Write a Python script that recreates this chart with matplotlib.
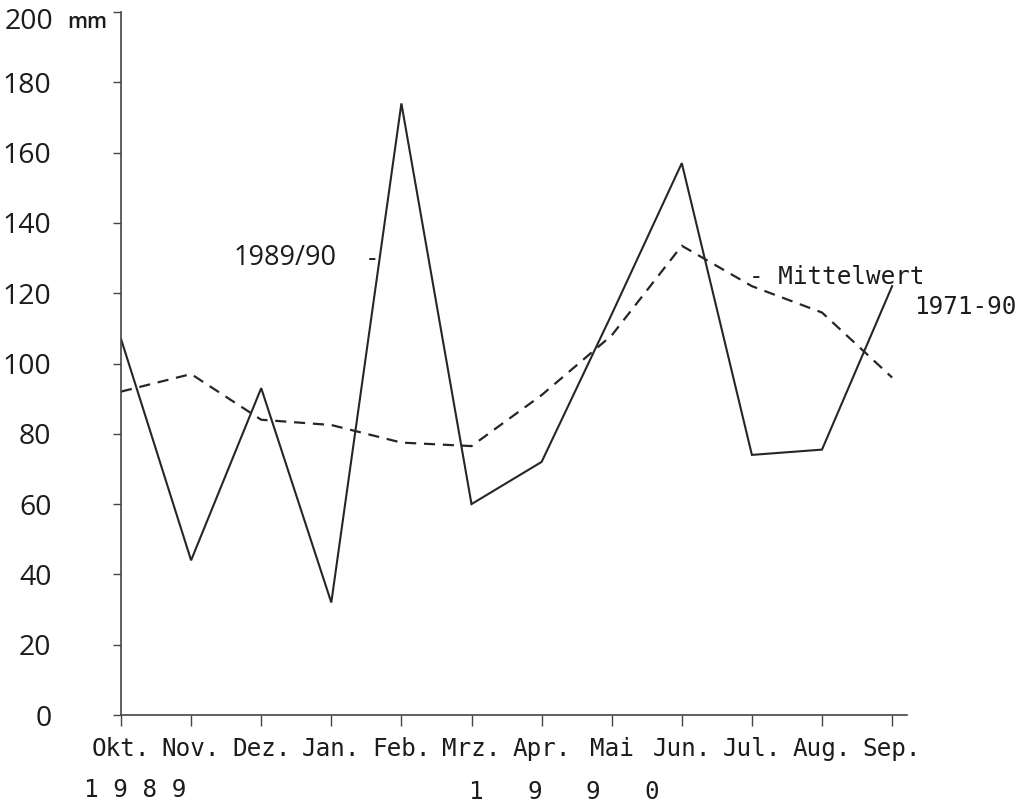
import matplotlib

matplotlib.use("Agg")
import matplotlib.pyplot as plt

W, H = 1019, 809

months = ["Okt.", "Nov.", "Dez.", "Jan.", "Feb.", "Mrz.", "Apr.", "Mai", "Jun.", "Jul.", "Aug.", "Sep."]
# monthly precipitation in mm
rain_1989_90 = [107, 44, 93, 32, 174, 60, 72, 114, 157, 74, 75.5, 122]
mean_1971_90 = [92, 97, 84, 82.5, 77.5, 76.5, 91, 108, 133.5, 122, 114.5, 96]
yticks = [0, 20, 40, 60, 80, 100, 120, 140, 160, 180, 200]

MONO = "DejaVu Sans Mono"
SANS = "Open Sans"
INK = "#1c1c1c"


def px(x, y):
    # pixel coords (top-left origin) -> figure fraction
    return x / W, 1 - y / H


fig = plt.figure(figsize=(W / 100, H / 100), dpi=100)
ax = fig.add_axes([121 / W, 1 - 715 / H, (907 - 121) / W, (715 - 12) / H])

ax.plot(range(12), rain_1989_90, color="#262626", lw=1.5, solid_joinstyle="miter")
ax.plot(range(12), mean_1971_90, color="#262626", lw=1.6, ls=(0, (5, 3.5)))

ax.set_xlim(0, (907 - 121) / 70.1)
ax.set_ylim(0, 200)
for s in ("top", "right"):
    ax.spines[s].set_visible(False)
for s in ("left", "bottom"):
    ax.spines[s].set_color("#444444")
    ax.spines[s].set_linewidth(1.2)

ax.set_xticks(range(12))
ax.set_xticklabels(months, fontfamily=MONO, fontsize=17.5, color=INK)
ax.tick_params(axis="x", direction="out", length=8, width=1, colors="#444444", pad=8,
               labelcolor=INK)

ax.set_yticks(yticks)
ax.set_yticklabels([str(v) if v != 200 else "" for v in yticks], fontfamily=SANS,
                   fontsize=20.5, color=INK)
ax.tick_params(axis="y", direction="out", length=6, width=1, colors="#444444", pad=44,
               labelcolor=INK)

# unit label at the top of the y axis
fig.text(*px(53, 22), "200", ha="right", va="center", fontfamily=SANS, fontsize=20.5, color=INK)
fig.text(*px(67, 22), "mm", ha="left", va="center", fontfamily=SANS, fontsize=15,
         fontweight="semibold", color=INK)

# years under the month labels
fig.text(*px(84, 790), "1 9 8 9", ha="left", va="center", fontfamily=MONO, fontsize=17.5, color=INK)
for ch, x in zip("1990", [475, 535, 593, 652]):
    fig.text(*px(x, 792), ch, ha="center", va="center", fontfamily=MONO, fontsize=17.5, color=INK)

# series annotations
fig.text(*px(234, 258), "1989/90", ha="left", va="center", fontfamily=SANS, fontsize=19.5, color=INK)
fig.text(*px(372, 259), "-", ha="center", va="center", fontfamily=MONO, fontsize=17.5, color=INK)
fig.text(*px(749, 277), "- Mittelwert", ha="left", va="center", fontfamily=MONO, fontsize=17.5, color=INK)
fig.text(*px(914, 307), "1971-90", ha="left", va="center", fontfamily=MONO, fontsize=17.5, color=INK)

fig.savefig("out.png", dpi=100)
